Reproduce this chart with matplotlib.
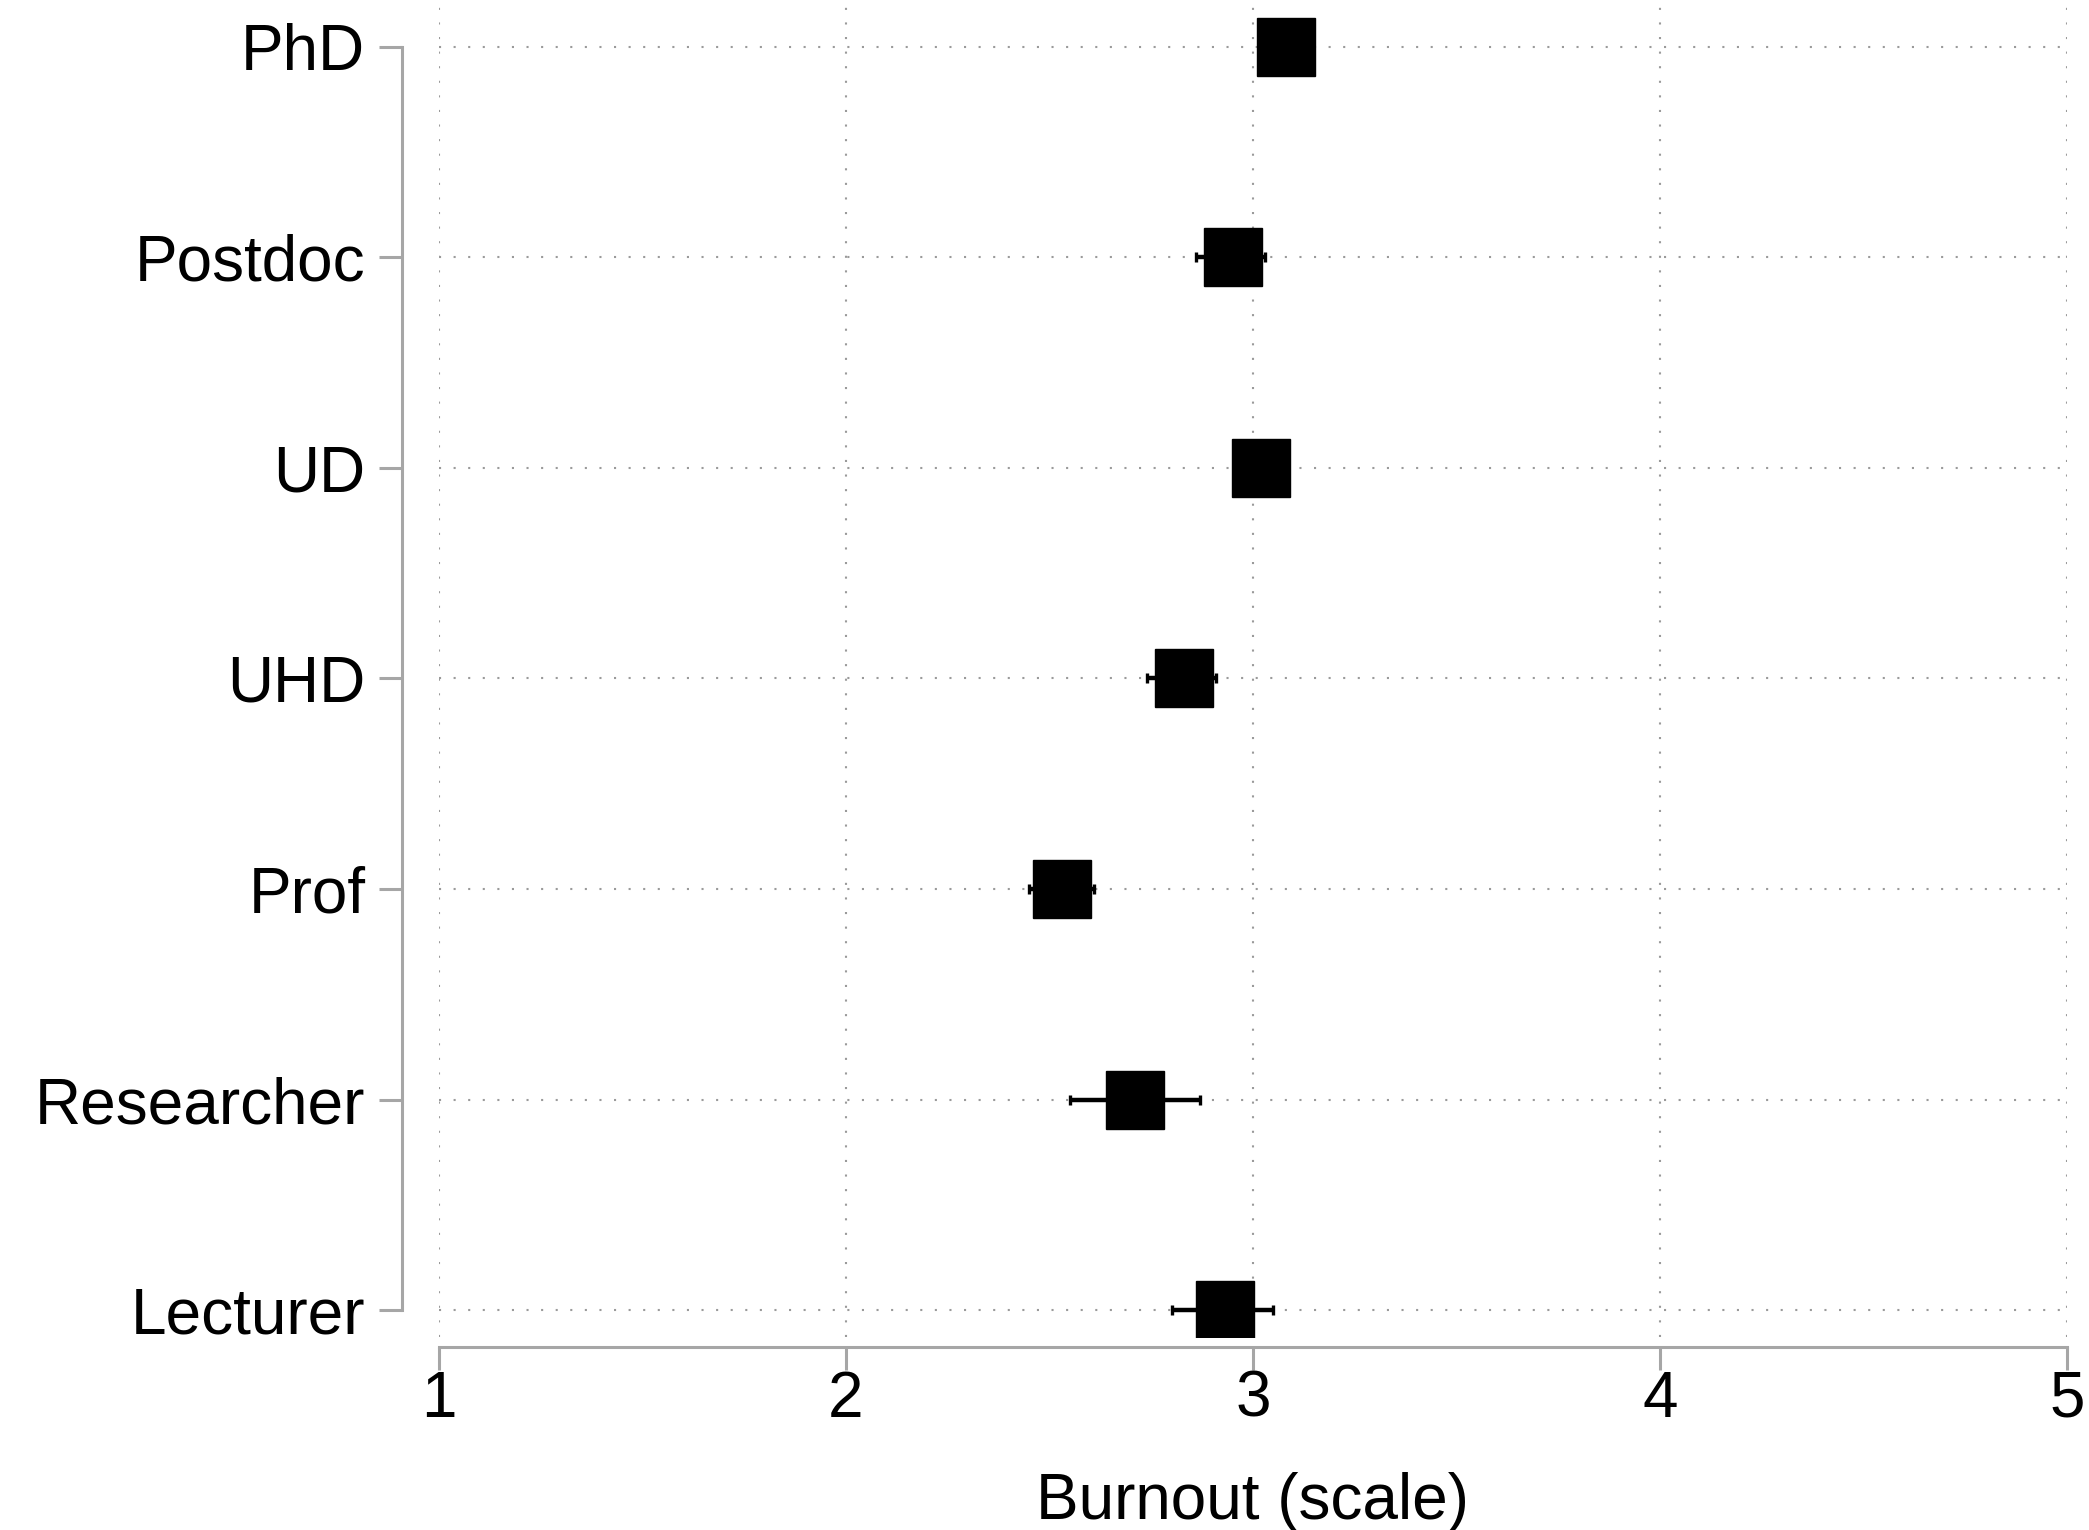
import matplotlib.pyplot as plt

plt.rcParams['font.family'] = ['Liberation Sans', 'DejaVu Sans']

# dados (média e intervalo de confiança)
cargos = ['PhD', 'Postdoc', 'UD', 'UHD', 'Prof', 'Researcher', 'Lecturer']
media = [3.08, 2.95, 3.02, 2.83, 2.53, 2.71, 2.93]
ic_baixo = [3.03, 2.86, 2.97, 2.74, 2.45, 2.55, 2.80]
ic_alto = [3.13, 3.03, 3.07, 2.91, 2.61, 2.87, 3.05]

posicoes = list(range(1, len(cargos) + 1))
erro_esq = [m - b for m, b in zip(media, ic_baixo)]
erro_dir = [a - m for m, a in zip(media, ic_alto)]

cinza = '#a6a6a6'

fig = plt.figure(figsize=(20.89, 15.30), dpi=100)
ax = fig.add_axes([439 / 2089, 1 - 1337 / 1530, (2067 - 439) / 2089, 1337 / 1530])

ax.errorbar(media, posicoes, xerr=[erro_esq, erro_dir], fmt='none',
            ecolor='black', elinewidth=3.2, capsize=3.6, capthick=2.4, zorder=3)
ax.plot(media, posicoes, linestyle='none', marker='s', markersize=42,
        color='black', zorder=4)

ax.set_xlim(1, 5)
ax.set_ylim(7.128, 0.777)
ax.set_xticks([1, 2, 3, 4, 5])
ax.set_yticks(posicoes)
ax.set_yticklabels(cargos)

ax.grid(True, color='#9a9a9a', linewidth=1.5, linestyle=(0, (1, 6)))
ax.set_axisbelow(True)

for lado in ['top', 'right']:
    ax.spines[lado].set_visible(False)
ax.spines['left'].set_position(('outward', 26.6))
ax.spines['left'].set_bounds(1, 7)
ax.spines['bottom'].set_position(('outward', 7.2))
for lado in ['left', 'bottom']:
    ax.spines[lado].set_color(cinza)
    ax.spines[lado].set_linewidth(2.2)

ax.tick_params(axis='both', colors=cinza, length=16.5, width=2.2, labelsize=46,
               labelcolor='black')
ax.tick_params(axis='y', pad=10)
ax.tick_params(axis='x', pad=0)

ax.set_xlabel('Burnout (scale)', fontsize=46, labelpad=30)

fig.savefig('out.png', dpi=100)
